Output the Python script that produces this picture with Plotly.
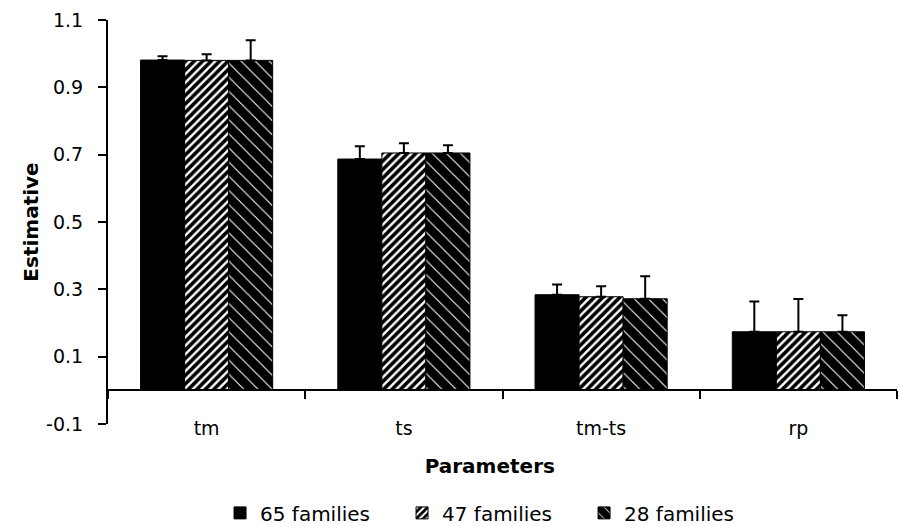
import plotly.graph_objects as go

categories = ["tm", "ts", "tm-ts", "rp"]
series_names = ["65 families", "47 families", "28 families"]
fam65 = [0.981, 0.687, 0.284, 0.174]
fam47 = [0.980, 0.705, 0.278, 0.174]
fam28 = [0.980, 0.705, 0.272, 0.174]
err65 = [0.011, 0.038, 0.030, 0.090]
err47 = [0.018, 0.029, 0.031, 0.097]
err28 = [0.060, 0.023, 0.067, 0.049]
y_tickvals = [-0.1, 0.1, 0.3, 0.5, 0.7, 0.9, 1.1]
y_ticktext = ["-0.1", "0.1", "0.3", "0.5", "0.7", "0.9", "1.1"]

FONT = "DejaVu Sans"

patterns = [
    dict(shape=""),
    dict(shape="/", fgcolor="black", bgcolor="white", fgopacity=1,
         size=6, solidity=0.6),
    dict(shape="\\", fgcolor="black", bgcolor="white", fgopacity=1,
         size=10, solidity=0.9),
]
values = [fam65, fam47, fam28]
errors = [err65, err47, err28]

fig = go.Figure()
for name, vals, errs, pat in zip(series_names, values, errors, patterns):
    fig.add_trace(go.Bar(
        x=categories, y=vals, name=name,
        marker=dict(color="black" if pat["shape"] == "" else "white",
                    pattern=pat, line=dict(color="black", width=1)),
        error_y=dict(type="data", symmetric=False, array=errs,
                     arrayminus=[0] * len(errs), color="black",
                     thickness=2, width=5),
    ))

fig.update_layout(
    width=899, height=526,
    margin=dict(l=108, r=2, t=20, b=102, autoexpand=False),
    plot_bgcolor="white", paper_bgcolor="white",
    barmode="group", bargap=0.33, bargroupgap=0,
    font=dict(family=FONT, color="black", size=19),
    showlegend=True,
    legend=dict(orientation="h", x=0.142, xanchor="left", y=-0.22,
                yanchor="middle", font=dict(size=20, family=FONT),
                entrywidth=137, traceorder="normal"),
    xaxis=dict(
        anchor="free", position=1 / 12, automargin=False,
        showline=True, linecolor="black", linewidth=2,
        ticks="outside", tickson="boundaries", ticklen=8, tickwidth=2,
        tickcolor="black", ticklabelstandoff=21,
        tickfont=dict(size=19, family=FONT),
        title=dict(text="<b>Parameters</b>&nbsp;&nbsp;&nbsp;&nbsp;",
                   font=dict(size=20, family=FONT), standoff=20),
        showgrid=False, zeroline=False,
    ),
    yaxis=dict(
        range=[-0.1, 1.1], tickmode="array", tickvals=y_tickvals,
        ticktext=y_ticktext, showline=True, linecolor="black", linewidth=2,
        ticks="outside", ticklen=8, tickwidth=2, tickcolor="black",
        automargin=False,
        ticklabelstandoff=11, tickfont=dict(size=19, family=FONT),
        title=dict(text="<b>Estimative</b>", font=dict(size=20, family=FONT),
                   standoff=2),
        showgrid=False, zeroline=False,
    ),
)

fig.write_html("out.html", config={"displayModeBar": False},
               post_script="document.body.style.margin='0';")
